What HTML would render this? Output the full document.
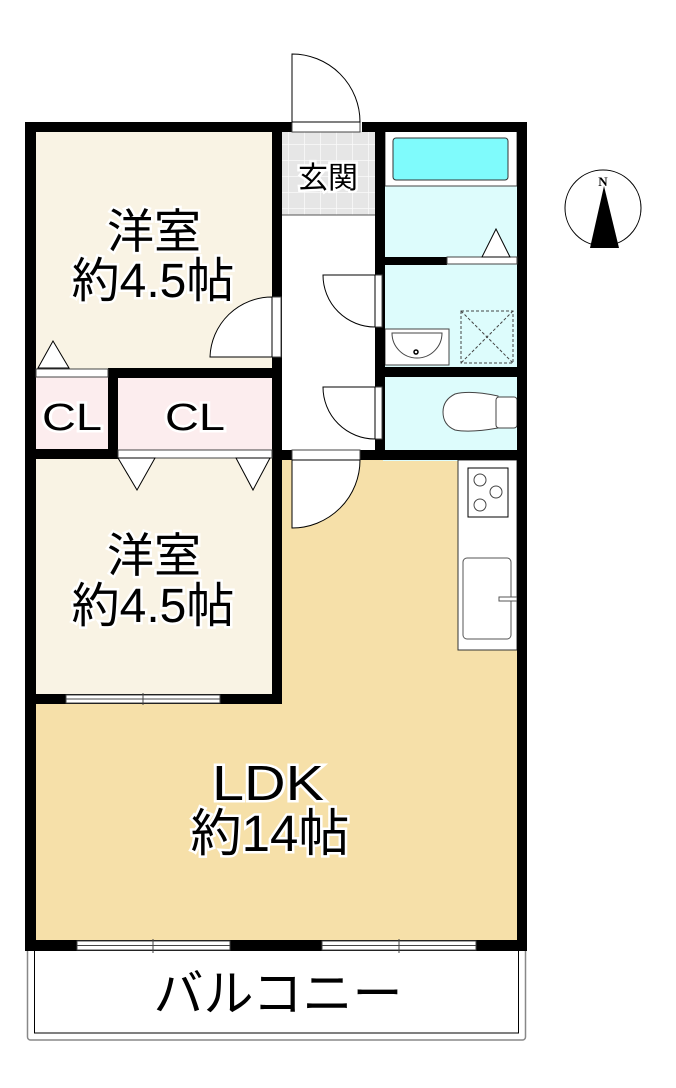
<!DOCTYPE html>
<html><head><meta charset="utf-8"><style>
html,body{margin:0;padding:0;background:#fff;width:676px;height:1088px;overflow:hidden}
svg{display:block}
text{font-family:"Liberation Sans","Noto Sans CJK JP",sans-serif;fill:#000;stroke:#fff;stroke-width:5;paint-order:stroke;text-anchor:middle}
</style></head><body>
<svg width="676" height="1088" viewBox="0 0 676 1088" xmlns="http://www.w3.org/2000/svg">
<defs>
<pattern id="tile" width="16" height="16" patternUnits="userSpaceOnUse">
<rect width="16" height="16" fill="#e6e6e6"/><path d="M0 0H16M0 0V16" stroke="#fafafa" stroke-width="1.5"/>
</pattern>
</defs>
<rect x="27.5" y="945" width="498" height="95" rx="3" fill="#fff" stroke="#888" stroke-width="1.5"/>
<rect x="34.5" y="945" width="484" height="88" fill="#fff" stroke="#000" stroke-width="1"/>
<rect x="35" y="131" width="238" height="238" fill="#f9f3e4"/>
<rect x="35" y="458" width="238" height="238" fill="#f9f3e4"/>
<rect x="35" y="700" width="484" height="242" fill="#f6e0a9"/>
<rect x="281" y="456" width="238" height="250" fill="#f6e0a9"/>
<rect x="35" y="376" width="74" height="74" fill="#fcedee"/>
<rect x="117" y="376" width="156" height="74" fill="#fcedee"/>
<rect x="281" y="131" width="96" height="84" fill="url(#tile)"/>
<rect x="281" y="215" width="96" height="240" fill="#fff"/>
<line x1="281" y1="215" x2="377" y2="215" stroke="#555" stroke-width="1"/>
<rect x="383" y="131" width="136" height="330" fill="#ddfcfc"/>
<rect x="385" y="131" width="132" height="55" fill="#fff" stroke="#444" stroke-width="1"/>
<rect x="393" y="138" width="115" height="42" rx="3" fill="#7ffbfc" stroke="#333" stroke-width="1"/>
<rect x="458" y="460" width="59" height="190" fill="#fff" stroke="#333" stroke-width="1"/>
<rect x="468" y="468" width="40" height="49" fill="#fff" stroke="#000" stroke-width="1"/>
<circle cx="480" cy="480" r="6" fill="none" stroke="#444"/><circle cx="496" cy="492" r="6" fill="none" stroke="#444"/><circle cx="480" cy="505" r="6" fill="none" stroke="#444"/>
<rect x="463" y="558" width="48" height="81" rx="4" fill="#fff" stroke="#555" stroke-width="1"/>
<rect x="499" y="597" width="18" height="4" fill="#fff" stroke="#555" stroke-width="1"/>
<rect x="385" y="329" width="64" height="36" fill="#fff" stroke="#444" stroke-width="1"/>
<path d="M392 333 H442 A25 25 0 0 1 392 333 Z" fill="#fff" stroke="#444"/>
<circle cx="416" cy="352" r="2" fill="none" stroke="#000" stroke-width="1.5"/>
<rect x="461" y="311" width="52" height="52" fill="none" stroke="#444" stroke-dasharray="3,2"/>
<path d="M461 311L513 363M513 311L461 363" stroke="#444" stroke-dasharray="3,2"/>
<path d="M498 396 Q470 390 455 394 Q443 400 443 412 Q443 425 455 430 Q470 433 498 428 Z" fill="#fff" stroke="#444"/>
<rect x="496" y="397" width="21" height="31" rx="3" fill="#fff" stroke="#444"/>
<g fill="#000">
<rect x="25" y="122" width="11" height="829"/>
<rect x="25" y="122" width="268" height="10"/>
<rect x="362" y="122" width="165" height="10"/>
<rect x="517" y="122" width="10" height="829"/>
<rect x="25" y="940" width="502" height="11"/>
<rect x="272" y="122" width="10" height="582"/>
<rect x="375" y="122" width="10" height="338"/>
<rect x="385" y="257" width="62" height="8"/>
<rect x="375" y="367" width="152" height="10"/>
<rect x="282" y="450" width="245" height="10"/>
<rect x="108" y="368" width="174" height="10"/>
<rect x="108" y="368" width="10" height="90"/>
<rect x="25" y="449" width="93" height="10"/>
<rect x="25" y="694" width="257" height="10"/>
</g>
<g fill="#fff" stroke="#444" stroke-width="1">
<rect x="292" y="122" width="68" height="10"/>
<rect x="447" y="257" width="70" height="7"/>
<rect x="36" y="369" width="72" height="8"/>
<rect x="118" y="450" width="154" height="8"/>
<rect x="272" y="297" width="9" height="60"/>
<rect x="375" y="275" width="7" height="52"/>
<rect x="375" y="387" width="7" height="52"/>
<rect x="292" y="450" width="68" height="10"/>
<rect x="66" y="695" width="154" height="8"/>
<rect x="77" y="941" width="153" height="9"/>
<rect x="322" y="941" width="154" height="9"/>
</g>
<g stroke="#444" stroke-width="1">
<line x1="66" y1="699" x2="220" y2="699"/><line x1="143" y1="693" x2="143" y2="705"/>
<line x1="77" y1="945.5" x2="230" y2="945.5"/><line x1="153" y1="939" x2="153" y2="953"/>
<line x1="322" y1="945.5" x2="476" y2="945.5"/><line x1="399" y1="939" x2="399" y2="953"/>
</g>
<g fill="#fff" stroke="#000" stroke-width="1">
<path d="M292 122 V54 A68 68 0 0 1 360 122 Z"/>
<path d="M292 460 V528 A68 68 0 0 0 360 460 Z"/>
<path d="M272 357 H210 A62 62 0 0 1 272 297 Z"/>
<path d="M375 275 H323 A52 52 0 0 0 375 327 Z"/>
<path d="M375 387 H323 A52 52 0 0 0 375 439 Z"/>
<path d="M482 257 L496 229 L510 257 Z"/>
<path d="M38 368 L53 341 L69 368 Z"/>
<path d="M118 458 L137 490 L155 458 Z"/>
<path d="M236 458 L253 490 L270 458 Z"/>
</g>
<circle cx="603" cy="208" r="38" fill="#fff" stroke="#000" stroke-width="1"/>
<path d="M604 186 L590 248 L619 248 Z" fill="#000"/>
<text x="603" y="186" style="font-family:'Liberation Serif',serif;font-weight:bold;font-size:13px;stroke-width:0">N</text>
<text x="154" y="248" font-size="47">洋室</text>
<text x="153" y="297" font-size="48">約4.5帖</text>
<text x="154" y="572" font-size="47">洋室</text>
<text x="153" y="622" font-size="48">約4.5帖</text>
<text x="72" y="430" font-size="38" textLength="60" lengthAdjust="spacingAndGlyphs">CL</text>
<text x="195" y="430" font-size="38" textLength="60" lengthAdjust="spacingAndGlyphs">CL</text>
<text x="328" y="188" font-size="30">玄関</text>
<text x="268" y="800" font-size="49" textLength="112" lengthAdjust="spacingAndGlyphs">LDK</text>
<text x="270" y="851" font-size="51">約14帖</text>
<text x="278" y="1011" font-size="50">バルコニー</text>
</svg>
</body></html>
